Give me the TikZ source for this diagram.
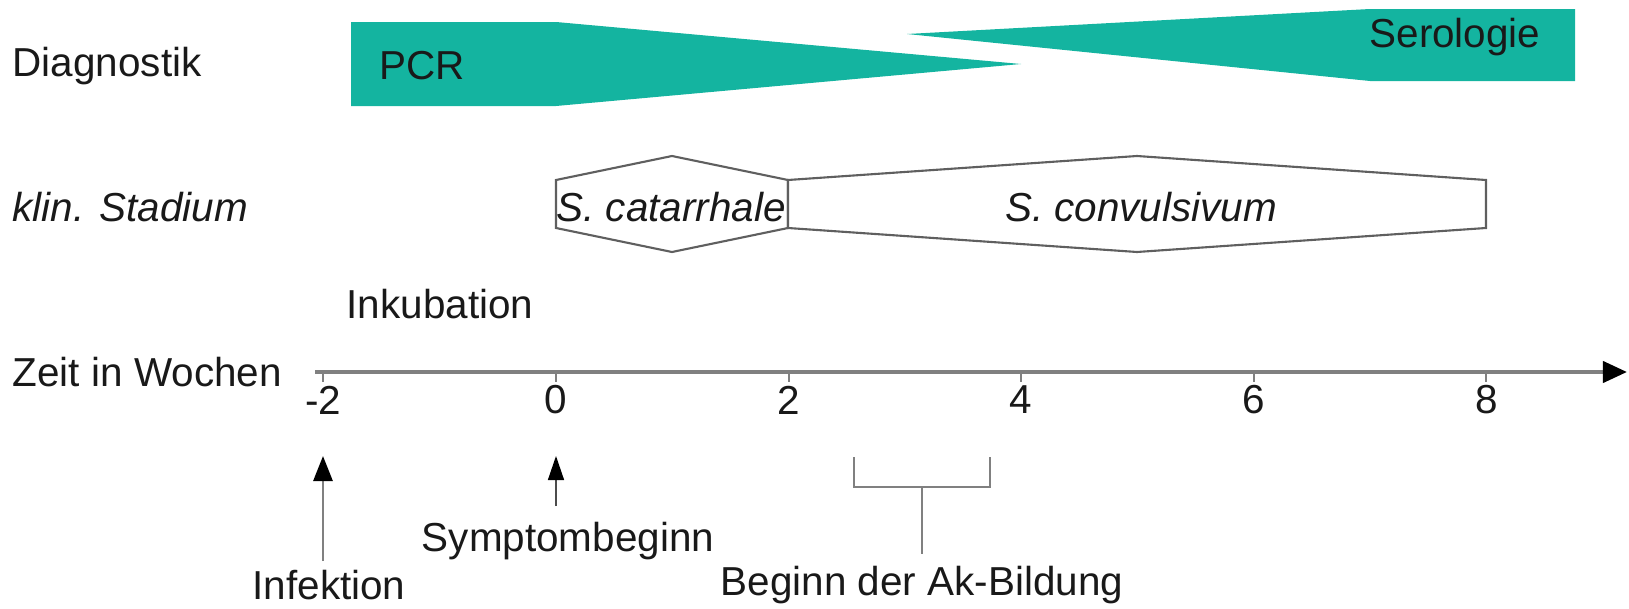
\documentclass[tikz,border=0pt]{standalone}
\usepackage{fontspec}
\setmainfont{Liberation Sans}
\usetikzlibrary{arrows.meta}
\definecolor{bandteal}{RGB}{20,180,160}
\definecolor{axisgray}{RGB}{128,128,128}
\definecolor{edgegray}{RGB}{95,95,95}

\begin{document}
\begin{tikzpicture}[x=0.01cm,y=-0.01cm,
  lbl/.style={font=\fontsize{11.5}{14}\selectfont, inner sep=0pt, text=black!90},
  itlbl/.style={lbl, font=\fontsize{11.5}{14}\selectfont\itshape},
  band/.style={fill=bandteal, draw=none},
  stage/.style={draw=edgegray, line width=0.6pt, fill=white, line join=miter},
  axisline/.style={draw=axisgray, line width=1.15pt, -{Triangle[length=2.4mm,width=2.1mm,black]}},
  tickline/.style={draw=axisgray, line width=0.6pt},
  marker/.style={draw=axisgray, line width=0.8pt, -{Triangle[length=2.5mm,width=1.9mm,black]}},
  thinmarker/.style={draw=black!70, line width=0.4pt, -{Triangle[length=2.4mm,width=1.6mm,black]}},
]
\useasboundingbox (0,0) rectangle (1629,609);

% row captions
\node[lbl, anchor=west]   (diag)  at (12,66)  {Diagnostik};
\node[itlbl, anchor=west] (klin)  at (12,207) {klin. Stadium};
\node[lbl, anchor=west]   (inkub) at (346,304) {Inkubation};
\node[lbl, anchor=west]   (zeit)  at (12,372) {Zeit in Wochen};

% diagnostic windows
\fill[band] (351,22) -- (556,22) -- (1021,64) -- (556,106) -- (351,106) -- cycle;
\node[lbl] (pcr) at (422,66) {PCR};
\fill[band] (907,34) -- (1370,9) -- (1575,9) -- (1575,81) -- (1370,81) -- cycle;
\node[lbl] (sero) at (1455,37) {Serologie};

% clinical stages
\draw[stage] (556,180) -- (672,156) -- (788,180) -- (788,228) -- (672,252) -- (556,228) -- cycle;
\draw[stage] (788,180) -- (1137,156) -- (1486,180) -- (1486,228) -- (1137,252) -- (788,228) -- cycle;
\node[itlbl] (cat)  at (671,207)  {S. catarrhale};
\node[itlbl] (conv) at (1141,207) {S. convulsivum};

% time axis
\coordinate (axL) at (315,372);
\coordinate (axR) at (1627,372);
\draw[axisline] (axL) -- (axR);
\foreach \w/\n in {-2/m2,0/p0,2/p2,4/p4,6/p6,8/p8}{
  \coordinate (t\n) at ({556+116.3*\w},372);
  \draw[tickline] (t\n) -- ++(0,10);
  \node[lbl] (l\n) at ({556+116.3*\w},400) {\w};
}

% events
\coordinate (infTail) at (323,561);
\coordinate (infTip)  at (323,456);
\draw[marker] (infTail) -- (infTip);
\node[lbl] (inf) at (329,585) {Infektion};

\coordinate (symTail) at (556,506);
\coordinate (symTip)  at (556,456);
\draw[thinmarker] (symTail) -- (symTip);
\node[lbl] (sym) at (568,541) {Symptombeginn};

% antibody onset bracket
\coordinate (brL) at (854,457);
\coordinate (brR) at (990,457);
\coordinate (brM) at (922,487);
\coordinate (brS) at (922,554);
\node[lbl] (ak) at (922,585) {Beginn der Ak-Bildung};
\draw[tickline] (brL) -- (brL |- brM) -- (brR |- brM) -- (brR);
\draw[tickline] (brM) -- (brS);
\end{tikzpicture}
\end{document}
